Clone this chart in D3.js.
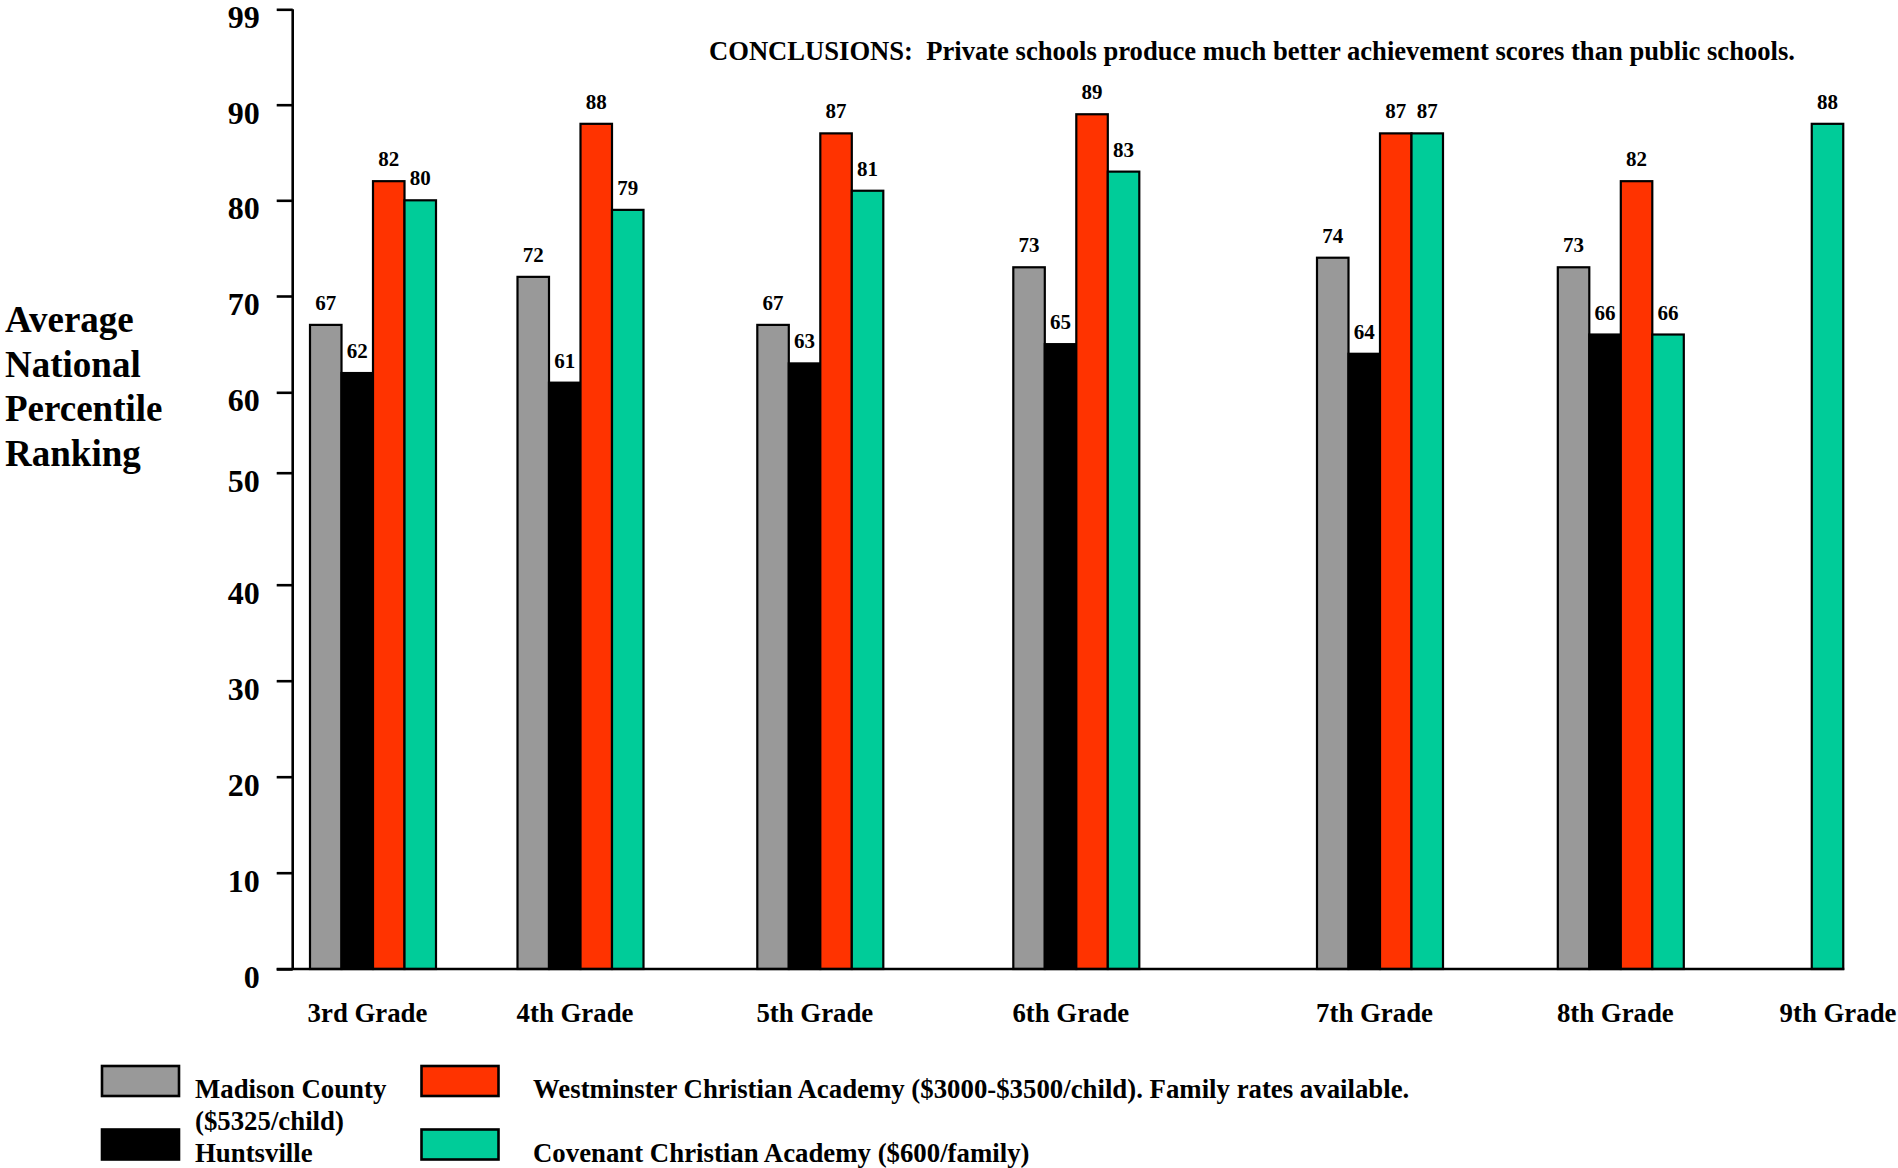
<!DOCTYPE html>
<html><head><meta charset="utf-8">
<script src="https://cdnjs.cloudflare.com/ajax/libs/d3/7.8.5/d3.min.js"></script>
<style>
body{margin:0;background:#fff;}
svg{display:block;font-family:"Liberation Serif","Times New Roman",serif;font-weight:bold;}
</style></head><body>
<svg id="chart" width="1898" height="1168"></svg>
<script>
// ---- data ----
const grades = ["3rd Grade","4th Grade","5th Grade","6th Grade","7th Grade","8th Grade","9th Grade"];
const madison     = [67, 72, 67, 73, 74, 73, null];
const huntsville  = [62, 61, 63, 65, 64, 66, null];
const westminster = [82, 88, 87, 89, 87, 82, null];
const covenant    = [80, 79, 81, 83, 87, 66, 88];
const seriesKeys  = ["madison","huntsville","westminster","covenant"];
const yTicks = [0, 10, 20, 30, 40, 50, 60, 70, 80, 90, 99];
const legendLines = [
  ["Madison County", "($5325/child)"],
  ["Huntsville"],
  ["Westminster Christian Academy ($3000-$3500/child). Family rates available."],
  ["Covenant Christian Academy ($600/family)"]
];
const conclusion = "CONCLUSIONS:  Private schools produce much better achievement scores than public schools.";
const yTitle = ["Average", "National", "Percentile", "Ranking"];

// ---- layout / style ----
const seriesData = {madison, huntsville, westminster, covenant};
const colors = {madison:"#999999", huntsville:"#000000", westminster:"#FF3300", covenant:"#00CC99"};
const svg = d3.select("#chart");

// irregular hand-drawn axis: piecewise linear scale through the tick positions
const y = d3.scaleLinear().domain(yTicks)
  .range([969, 872.7, 776.7, 680.7, 584.7, 472.7, 392.3, 296, 200.3, 104.7, 9.3]);
// irregular group spacing
const x = d3.scaleLinear().domain(d3.range(grades.length))
  .range([373, 580.5, 820.3, 1076.3, 1380, 1620.8, 1827.5]);
const barW = 31.5;

// y axis
const yAxis = svg.append("g").attr("transform", "translate(292.7,0)")
  .call(d3.axisLeft(y).tickValues(yTicks).tickFormat(d3.format("d")).tickSize(16).tickPadding(17));
yAxis.select(".domain").attr("d", `M0,${y(99)}V${y(0)}`).attr("stroke", "#000").attr("stroke-width", 2.6);
yAxis.selectAll(".tick line").attr("stroke", "#000").attr("stroke-width", 2.6);
yAxis.selectAll(".tick text").attr("fill", "#000").attr("font-size", 32).attr("dy", "0.58em")
  .attr("font-family", "Liberation Serif, Times New Roman, serif").attr("font-weight", "bold");

// bars
const groups = svg.append("g").selectAll("g").data(grades).join("g")
  .attr("transform", (d, i) => `translate(${x(i)},0)`);
groups.each(function(g, i) {
  const present = seriesKeys.filter(k => seriesData[k][i] != null);
  const inner = d3.scaleBand().domain(present)
    .range([-barW * present.length / 2, barW * present.length / 2]).padding(0);
  const sel = d3.select(this);
  sel.selectAll("rect").data(present).join("rect")
    .attr("x", k => inner(k))
    .attr("width", inner.bandwidth())
    .attr("y", k => y(seriesData[k][i]))
    .attr("height", k => y(0) - y(seriesData[k][i]))
    .attr("fill", k => colors[k])
    .attr("stroke", "#000").attr("stroke-width", 2.2);
  sel.selectAll("text").data(present).join("text")
    .attr("x", k => inner(k) + inner.bandwidth() / 2)
    .attr("y", k => y(seriesData[k][i]) - 15)
    .attr("text-anchor", "middle").attr("font-size", 21).attr("fill", "#000")
    .text(k => seriesData[k][i]);
});

// baseline
svg.append("line").attr("x1", 276.7).attr("x2", x(grades.length - 1) + barW / 2 + 1)
  .attr("y1", y(0)).attr("y2", y(0)).attr("stroke", "#000").attr("stroke-width", 2.6);

// x axis labels
const xAxis = svg.append("g").attr("transform", `translate(0,${y(0)})`)
  .call(d3.axisBottom(x).tickValues(d3.range(grades.length)).tickFormat(i => grades[i]).tickSize(0).tickPadding(34));
xAxis.select(".domain").remove();
xAxis.selectAll(".tick text").attr("fill", "#000").attr("font-size", 26.8)
  .attr("dx", (d, i) => i === grades.length - 1 ? 10 : -6)
  .attr("font-family", "Liberation Serif, Times New Roman, serif").attr("font-weight", "bold");

// y title
svg.append("text").attr("x", 5).attr("y", 332).attr("font-size", 37).attr("fill", "#000")
  .selectAll("tspan").data(yTitle).join("tspan")
  .attr("x", 5).attr("dy", (d, i) => i === 0 ? 0 : 44.7).text(d => d);

// conclusion
svg.append("text").attr("x", 709).attr("y", 60).attr("font-size", 26.6).attr("fill", "#000")
  .style("white-space", "pre").text(conclusion);

// legend
const legPos = [
  {bx: 102, by: 1066, tx: 195, ty: 1098},
  {bx: 102, by: 1129.5, tx: 195, ty: 1161.7},
  {bx: 421.5, by: 1066, tx: 533, ty: 1098},
  {bx: 421.5, by: 1129.5, tx: 533, ty: 1161.7}
];
const leg = svg.append("g").selectAll("g").data(seriesKeys).join("g");
leg.append("rect")
  .attr("x", (d, i) => legPos[i].bx).attr("y", (d, i) => legPos[i].by)
  .attr("width", 77).attr("height", 30)
  .attr("fill", d => colors[d]).attr("stroke", "#000").attr("stroke-width", 2.6);
leg.append("text")
  .attr("x", (d, i) => legPos[i].tx).attr("y", (d, i) => legPos[i].ty)
  .attr("font-size", 26.8).attr("fill", "#000")
  .selectAll("tspan").data((d, i) => legendLines[i].map(t => ({t, x: legPos[i].tx}))).join("tspan")
  .attr("x", d => d.x).attr("dy", (d, j) => j === 0 ? 0 : 32).text(d => d.t);
</script>
</body></html>
